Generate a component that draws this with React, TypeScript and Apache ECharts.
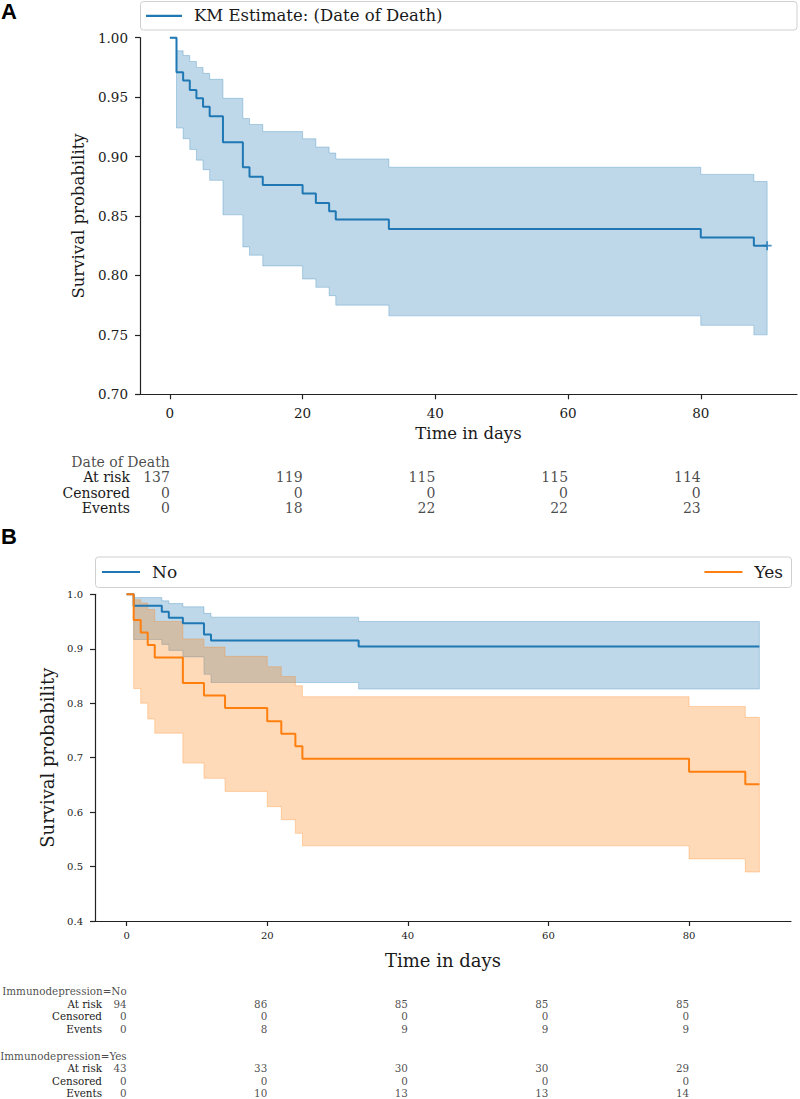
import React, { useEffect, useRef } from "react";
import * as echarts from "echarts";

// ---------------- Panel A : overall KM estimate ----------------
const legendA = "KM Estimate: (Date of Death)";
const timesA = [0, 1, 2, 3, 4, 5, 6, 8, 11, 12, 14, 20, 22, 24, 25, 33, 80, 88, 90];
const survA = [1, 0.971, 0.964, 0.956, 0.949, 0.942, 0.934, 0.912, 0.891, 0.883, 0.876, 0.869, 0.861, 0.854, 0.847, 0.839, 0.832, 0.825, 0.825];
const upperA = [1, 0.989, 0.985, 0.98, 0.975, 0.97, 0.965, 0.949, 0.932, 0.927, 0.921, 0.915, 0.908, 0.903, 0.898, 0.891, 0.885, 0.879, 0.879];
const lowerA = [1, 0.924, 0.915, 0.906, 0.897, 0.889, 0.88, 0.851, 0.824, 0.817, 0.808, 0.797, 0.79, 0.783, 0.775, 0.766, 0.758, 0.75, 0.75];
const censorA = [[90, 0.825]];

// ---------------- Panel B : by immunodepression ----------------
const nameNo = "No";
const timesNo = [0, 1, 5, 6, 8, 11, 12, 33, 90];
const survNo = [1, 0.979, 0.968, 0.957, 0.947, 0.926, 0.915, 0.904, 0.904];
const upperNo = [1, 0.994, 0.988, 0.983, 0.977, 0.965, 0.958, 0.95, 0.95];
const lowerNo = [1, 0.917, 0.908, 0.897, 0.885, 0.853, 0.838, 0.826, 0.826];

const nameYes = "Yes";
const timesYes = [0, 1, 2, 3, 4, 8, 11, 14, 20, 22, 24, 25, 80, 88, 90];
const survYes = [1, 0.953, 0.93, 0.907, 0.884, 0.837, 0.814, 0.791, 0.767, 0.744, 0.721, 0.698, 0.674, 0.651, 0.651];
const upperYes = [1, 0.99, 0.984, 0.972, 0.95, 0.918, 0.903, 0.886, 0.867, 0.849, 0.832, 0.812, 0.794, 0.774, 0.774];
const lowerYes = [1, 0.827, 0.8, 0.771, 0.745, 0.69, 0.662, 0.638, 0.61, 0.586, 0.561, 0.538, 0.514, 0.49, 0.49];

// ---------------- At-risk tables ----------------
const riskTicks = [0, 20, 40, 60, 80];
const rowLabels = ["At risk", "Censored", "Events"];

const tableTitleA = "Date of Death";
const atRiskA = [137, 119, 115, 115, 114];
const censoredA = [0, 0, 0, 0, 0];
const eventsA = [0, 18, 22, 22, 23];

const tableTitleNo = "Immunodepression=No";
const atRiskNo = [94, 86, 85, 85, 85];
const censoredNo = [0, 0, 0, 0, 0];
const eventsNo = [0, 8, 9, 9, 9];

const tableTitleYes = "Immunodepression=Yes";
const atRiskYes = [43, 33, 30, 30, 29];
const censoredYes = [0, 0, 0, 0, 0];
const eventsYes = [0, 10, 13, 13, 14];

const xAxisTitle = "Time in days";
const yAxisTitle = "Survival probability";
const panelLetters = ["A", "B"];

// ---------------- styling ----------------
const BLUE = "#1f77b4";
const ORANGE = "#ff7f0e";
const SERIF = "DejaVu Serif";
const COND = "DejaVu Serif Condensed, DejaVu Serif";
const INK = "#1a1a1a";
const BAND_ALPHA = 0.29;

function rgba(hex: string, a: number) {
  const n = parseInt(hex.slice(1), 16);
  return `rgba(${(n >> 16) & 255},${(n >> 8) & 255},${n & 255},${a})`;
}

function bandSeries(times: number[], lower: number[], upper: number[], color: string, axisIdx: number) {
  return {
    type: "custom",
    xAxisIndex: axisIdx,
    yAxisIndex: axisIdx,
    silent: true,
    clip: false,
    data: [[times[0], upper[0]]],
    renderItem: (_params: any, api: any) => {
      const pts: number[][] = [];
      const n = times.length;
      for (let i = 0; i < n; i++) {
        pts.push(api.coord([times[i], upper[i]]));
        if (i < n - 1) pts.push(api.coord([times[i + 1], upper[i]]));
      }
      for (let i = n - 1; i >= 0; i--) {
        if (i < n - 1) pts.push(api.coord([times[i + 1], lower[i]]));
        pts.push(api.coord([times[i], lower[i]]));
      }
      return {
        type: "polygon",
        shape: { points: pts },
        style: { fill: rgba(color, BAND_ALPHA), stroke: rgba(color, BAND_ALPHA), lineWidth: 1 },
      };
    },
  };
}

function lineSeries(name: string, times: number[], surv: number[], color: string, axisIdx: number) {
  return {
    type: "line",
    name,
    xAxisIndex: axisIdx,
    yAxisIndex: axisIdx,
    step: "end",
    symbol: "none",
    clip: false,
    silent: true,
    data: times.map((t, i) => [t, surv[i]]),
    lineStyle: { color, width: 2 },
    itemStyle: { color },
  };
}

function tableSeries(axisIdx: number, title: string, rows: number[][], fontSize: number, lineHeight: number, family: string) {
  const data: any[] = [{ value: [riskTicks[0], 0], name: title }];
  rows.forEach((vals, r) => {
    vals.forEach((v, i) => data.push({ value: [riskTicks[i], r + 1], name: String(v) }));
  });
  return {
    type: "scatter",
    xAxisIndex: axisIdx,
    yAxisIndex: axisIdx,
    silent: true,
    symbolSize: 0,
    data,
    label: {
      show: true,
      position: "left",
      distance: 0,
      formatter: (p: any) => p.name,
      fontSize,
      lineHeight,
      fontFamily: family,
      color: INK,
    },
  };
}

const axisLineStyle = { color: "#222", width: 1.2 };

function mainX(gridIndex: number, labelSize: number, labelMargin: number, nameSize: number, nameGap: number) {
  return {
    type: "value",
    gridIndex,
    min: -4.5,
    max: 94.5,
    axisLine: { show: true, onZero: false, lineStyle: axisLineStyle },
    axisTick: { show: true, length: 5, customValues: riskTicks, lineStyle: axisLineStyle },
    axisLabel: { customValues: riskTicks, margin: labelMargin, fontSize: labelSize, fontFamily: SERIF, color: INK },
    splitLine: { show: false },
    name: xAxisTitle,
    nameLocation: "middle",
    nameGap,
    nameTextStyle: { fontSize: nameSize, fontFamily: SERIF, color: INK },
  };
}

function mainY(gridIndex: number, min: number, max: number, interval: number, digits: number, labelSize: number, nameSize: number, nameGap: number) {
  return {
    type: "value",
    gridIndex,
    min,
    max,
    interval,
    axisLine: { show: true, onZero: false, lineStyle: axisLineStyle },
    axisTick: { show: true, length: 5, lineStyle: axisLineStyle },
    axisLabel: { margin: 12, fontSize: labelSize, fontFamily: SERIF, color: INK, formatter: (v: number) => v.toFixed(digits) },
    splitLine: { show: false },
    name: yAxisTitle,
    nameLocation: "middle",
    nameRotate: 90,
    nameGap,
    nameTextStyle: { fontSize: nameSize, fontFamily: SERIF, color: INK },
  };
}

function tableX(gridIndex: number) {
  return { type: "value", gridIndex, min: -4.5, max: 94.5, show: false };
}

function tableY(gridIndex: number, margin: number, fontSize: number, lineHeight: number, family: string) {
  return {
    type: "category",
    gridIndex,
    inverse: true,
    data: ["", ...rowLabels],
    axisLine: { show: false },
    axisTick: { show: false },
    splitLine: { show: false },
    axisLabel: { interval: 0, margin, fontSize, lineHeight, fontFamily: family, color: INK },
  };
}

function legendItem(name: string, pos: any, fontSize: number, iconW: number) {
  return {
    data: [name],
    ...pos,
    padding: 0,
    icon: "rect",
    itemWidth: iconW,
    itemHeight: 2.2,
    selectedMode: false,
    z: 10,
    textStyle: { fontSize, fontFamily: SERIF, color: INK, padding: [0, 0, 0, 7] },
  };
}

const option: any = {
  animation: false,
  backgroundColor: "#fff",
  grid: [
    { left: 140, top: 37.7, width: 657, height: 356.6 },
    { left: 140, top: 454.3, width: 657, height: 61.2 },
    { left: 95, top: 594.3, width: 696, height: 326.7 },
    { left: 95, top: 984.6, width: 696, height: 50.8 },
    { left: 95, top: 1050, width: 696, height: 50 },
  ],
  xAxis: [mainX(0, 13.5, 12, 16.5, 31), tableX(1), mainX(2, 10, 9, 18, 30), tableX(3), tableX(4)],
  yAxis: [
    mainY(0, 0.7, 1.0, 0.05, 2, 13.5, 16.5, 49),
    tableY(1, 10, 14, 14, SERIF),
    mainY(2, 0.4, 1.0, 0.1, 1, 10, 18, 35),
    tableY(3, -7, 11.5, 12, COND),
    tableY(4, -7, 11.5, 12, COND),
  ],
  legend: [
    legendItem(legendA, { left: 146, top: 7.3 }, 16.5, 36),
    legendItem(nameNo, { left: 102, top: 563.5 }, 17, 38),
    legendItem(nameYes, { right: 17, top: 563.5 }, 17, 38),
  ],
  graphic: [
    { type: "rect", z: 1, shape: { x: 140.5, y: 1.5, width: 656.5, height: 28.5, r: 3 }, style: { fill: "#fff", stroke: "#d0d0d0", lineWidth: 1 } },
    { type: "rect", z: 1, shape: { x: 95.5, y: 557, width: 696, height: 30.5, r: 3 }, style: { fill: "#fff", stroke: "#d0d0d0", lineWidth: 1 } },
    { type: "text", z: 1, left: 1, top: 0, style: { text: panelLetters[0], font: "bold 22px Liberation Sans", fill: "#000" } },
    { type: "text", z: 1, left: 1, top: 525, style: { text: panelLetters[1], font: "bold 22px Liberation Sans", fill: "#000" } },
  ],
  series: [
    bandSeries(timesA, lowerA, upperA, BLUE, 0),
    lineSeries(legendA, timesA, survA, BLUE, 0),
    {
      type: "scatter",
      xAxisIndex: 0,
      yAxisIndex: 0,
      silent: true,
      symbol: "path://M4,0H6V4H10V6H6V10H4V6H0V4H4Z",
      symbolSize: 9,
      itemStyle: { color: BLUE },
      data: censorA,
    },
    tableSeries(1, tableTitleA, [atRiskA, censoredA, eventsA], 14, 14, SERIF),
    bandSeries(timesNo, lowerNo, upperNo, BLUE, 2),
    lineSeries(nameNo, timesNo, survNo, BLUE, 2),
    bandSeries(timesYes, lowerYes, upperYes, ORANGE, 2),
    lineSeries(nameYes, timesYes, survYes, ORANGE, 2),
    tableSeries(3, tableTitleNo, [atRiskNo, censoredNo, eventsNo], 11.5, 12, COND),
    tableSeries(4, tableTitleYes, [atRiskYes, censoredYes, eventsYes], 11.5, 12, COND),
  ],
};

export default function App() {
  const ref = useRef<HTMLDivElement>(null);
  useEffect(() => {
    if (!ref.current) return;
    const chart = echarts.init(ref.current, null, { renderer: "svg" });
    chart.setOption(option);
    return () => chart.dispose();
  }, []);
  return (
    <div
      ref={ref}
      style={{ position: "absolute", left: 0, top: 0, width: 800, height: 1099, background: "#fff" }}
    />
  );
}
